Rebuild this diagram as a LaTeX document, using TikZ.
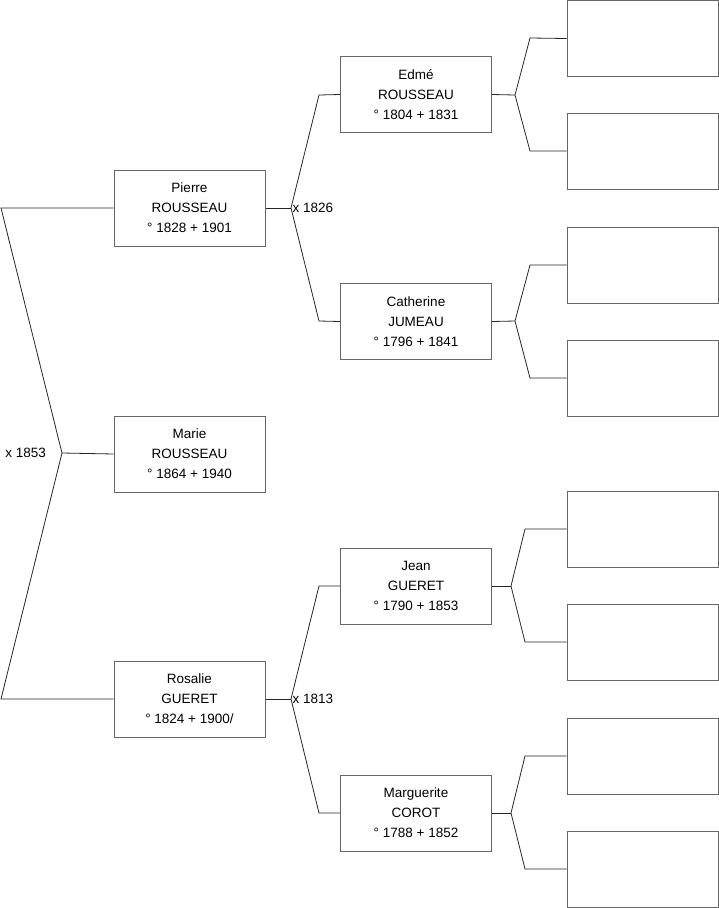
\documentclass[tikz,border=0pt]{standalone}
\usepackage{fontspec}
\setmainfont{Liberation Sans}

\begin{document}
\begin{tikzpicture}[x=1pt,y=-1pt,font=\fontsize{13.5}{20}\selectfont,
  person/.style={draw=black!60,line width=1pt,minimum width=151pt,minimum height=76pt,align=center,inner sep=0pt},
  link/.style={draw=black!85,line width=0.8pt}]
  \useasboundingbox (0,0) rectangle (719,908);

  % Generation 1
  \node[person] (pierre) at (189.5,208) {Pierre\\ROUSSEAU\\° 1828 + 1901};
  \node[person] (marie) at (189.5,454) {Marie\\ROUSSEAU\\° 1864 + 1940};
  \node[person] (rosalie) at (189.5,699) {Rosalie\\GUERET\\° 1824 + 1900/};

  % Generation 2
  \node[person] (edme) at (416,94.5) {Edmé\\ROUSSEAU\\° 1804 + 1831};
  \node[person] (catherine) at (416,321.5) {Catherine\\JUMEAU\\° 1796 + 1841};
  \node[person] (jean) at (416,586) {Jean\\GUERET\\° 1790 + 1853};
  \node[person] (marguerite) at (416,813) {Marguerite\\COROT\\° 1788 + 1852};

  % Generation 3 (empty)
  \node[person] (e1) at (642.5,38.5) {};
  \node[person] (e2) at (642.5,151) {};
  \node[person] (e3) at (642.5,265) {};
  \node[person] (e4) at (642.5,378) {};
  \node[person] (e5) at (642.5,529) {};
  \node[person] (e6) at (642.5,642) {};
  \node[person] (e7) at (642.5,756) {};
  \node[person] (e8) at (642.5,869) {};

  % Marriage x 1853
  \coordinate (j0) at (62,453);
  \coordinate (p0) at (1,208);
  \coordinate (r0) at (1,699);
  \path[link] (pierre.west) -- (p0) -- (j0) -- (r0) -- (rosalie.west);
  \path[link] (marie.west) -- (j0);
  \node[left=16pt,inner sep=0pt] (m0) at (j0) {x 1853};

  % Marriage x 1826
  \coordinate (j1) at (291,208);
  \coordinate (a1) at (319,95);
  \coordinate (b1) at (319,321);
  \path[link] (pierre.east) -- (j1);
  \path[link] (edme.west) -- (a1) -- (j1) -- (b1) -- (catherine.west);
  \node[right=1.5pt,inner sep=0pt] (m1) at (j1) {x 1826};

  % Marriage x 1813
  \coordinate (j2) at (291,699);
  \coordinate (a2) at (319,586);
  \coordinate (b2) at (319,813);
  \path[link] (rosalie.east) -- (j2);
  \path[link] (jean.west) -- (a2) -- (j2) -- (b2) -- (marguerite.west);
  \node[right=1.5pt,inner sep=0pt] (m2) at (j2) {x 1813};

  % Parents of generation 2
  \coordinate (j3) at (515,95);
  \coordinate (a3) at (530,38);
  \coordinate (b3) at (530,151);
  \path[link] (edme.east) -- (j3);
  \path[link] (e1.west) -- (a3) -- (j3) -- (b3) -- (e2.west);

  \coordinate (j4) at (515,321);
  \coordinate (a4) at (530,265);
  \coordinate (b4) at (530,378);
  \path[link] (catherine.east) -- (j4);
  \path[link] (e3.west) -- (a4) -- (j4) -- (b4) -- (e4.west);

  \coordinate (j5) at (511,586);
  \coordinate (a5) at (525,529);
  \coordinate (b5) at (525,642);
  \path[link] (jean.east) -- (j5);
  \path[link] (e5.west) -- (a5) -- (j5) -- (b5) -- (e6.west);

  \coordinate (j6) at (511,813);
  \coordinate (a6) at (525,756);
  \coordinate (b6) at (525,869);
  \path[link] (marguerite.east) -- (j6);
  \path[link] (e7.west) -- (a6) -- (j6) -- (b6) -- (e8.west);
\end{tikzpicture}
\end{document}
